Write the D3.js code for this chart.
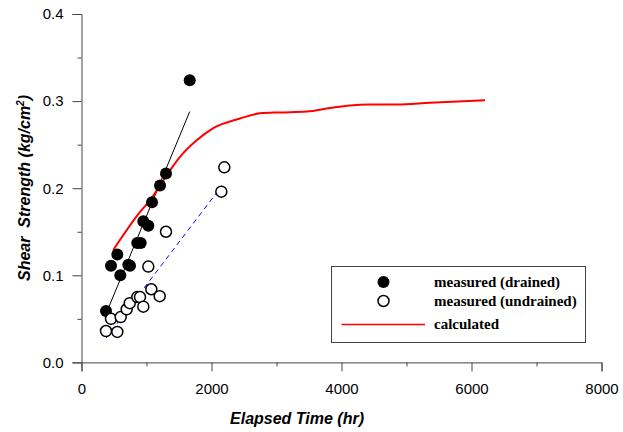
<!DOCTYPE html>
<html>
<head>
<meta charset="utf-8">
<script src="https://cdn.jsdelivr.net/npm/d3@7"></script>
<style>
  body { margin: 0; background: #fff; }
  svg { display: block; }
  .tick text { font-family: "Liberation Sans", Arial, sans-serif; font-size: 15px; fill: #000; }
  .axis-title { font-family: "Liberation Sans", Arial, sans-serif; font-size: 16px; font-weight: bold; font-style: italic; }
  .legend text { font-family: "Liberation Serif", "Times New Roman", serif; font-size: 15px; font-weight: bold; }
</style>
</head>
<body>
<svg width="623" height="432"></svg>
<script>
'use strict';
// measured shear strength, drained samples (hr, kg/cm2)
var drainedTime = [377, 454, 551, 597, 720, 746, 858, 911, 951, 1028, 1085, 1208, 1300, 1665];
var drainedStrength = [0.059, 0.111, 0.124, 0.100, 0.112, 0.111, 0.137, 0.137, 0.162, 0.157, 0.184, 0.203, 0.217, 0.324];

// measured shear strength, undrained samples
var undrainedTime = [377, 454, 551, 603, 695, 742, 858, 900, 951, 1028, 1074, 1203, 1300, 2151, 2197];
var undrainedStrength = [0.036, 0.050, 0.035, 0.052, 0.061, 0.068, 0.075, 0.075, 0.064, 0.110, 0.084, 0.076, 0.150, 0.196, 0.224];

// calculated curve
var calcTime = [489, 926, 1054, 1258, 1515, 1772, 2028, 2438, 2746, 3054, 3465, 3823, 4131, 4438, 4849, 5362, 6208];
var calcStrength = [0.129, 0.175, 0.186, 0.209, 0.236, 0.255, 0.269, 0.280, 0.286, 0.287, 0.288, 0.292, 0.295, 0.296, 0.296, 0.298, 0.301];

// fitted trend lines (end points)
var drainedFitTime = [362, 1665];
var drainedFitStrength = [0.053, 0.288];
var undrainedFitTime = [377, 2157];
var undrainedFitStrength = [0.028, 0.2025];

var xTicks = [0, 2000, 4000, 6000, 8000];
var yTicks = [0, 0.1, 0.2, 0.3, 0.4];
var legendLabels = ['measured (drained)', 'measured (undrained)', 'calculated'];

var svg = d3.select('svg');
var xScale = d3.scaleLinear().domain([0, 8000]).range([81.5, 601.5]);
var yScale = d3.scaleLinear().domain([0, 0.4]).range([362.4, 14]);

// minor ticks
var xMinor = d3.range(1000, 8000, 2000);
var yMinor = d3.range(0.05, 0.4, 0.1);

svg.append('g')
  .attr('transform', 'translate(0,' + yScale(0) + ')')
  .call(d3.axisBottom(xScale).tickValues(xTicks).tickFormat(d3.format('d')).tickSize(9).tickPadding(12));
svg.append('g')
  .attr('transform', 'translate(0,' + yScale(0) + ')')
  .call(d3.axisBottom(xScale).tickValues(xMinor).tickFormat('').tickSize(4))
  .select('.domain').remove();

svg.append('g')
  .attr('transform', 'translate(' + xScale(0) + ',0)')
  .call(d3.axisLeft(yScale).tickValues(yTicks).tickFormat(d3.format('.1f')).tickSize(9).tickPadding(9));
svg.append('g')
  .attr('transform', 'translate(' + xScale(0) + ',0)')
  .call(d3.axisLeft(yScale).tickValues(yMinor).tickFormat('').tickSize(4))
  .select('.domain').remove();

svg.selectAll('.domain').attr('stroke', '#444');
svg.selectAll('.tick line').attr('stroke', '#444');

svg.append('text')
  .attr('class', 'axis-title')
  .attr('x', 297)
  .attr('y', 424)
  .attr('text-anchor', 'middle')
  .text('Elapsed Time (hr)');

svg.append('text')
  .attr('class', 'axis-title')
  .attr('transform', 'translate(30,188) rotate(-90)')
  .attr('text-anchor', 'middle')
  .html('Shear\u00a0 Strength (kg/cm<tspan dy="-6" font-size="10px">2</tspan><tspan dy="6">)</tspan>');

// trend lines
var line = d3.line().x(function(d) { return xScale(d[0]); }).y(function(d) { return yScale(d[1]); });
svg.append('path')
  .datum(d3.zip(drainedFitTime, drainedFitStrength))
  .attr('d', line)
  .attr('fill', 'none')
  .attr('stroke', '#000')
  .attr('stroke-width', 1);
svg.append('path')
  .datum(d3.zip(undrainedFitTime, undrainedFitStrength))
  .attr('d', line)
  .attr('fill', 'none')
  .attr('stroke', '#0000ff')
  .attr('stroke-width', 1)
  .attr('stroke-dasharray', '5,4');

// calculated curve
svg.append('path')
  .datum(d3.zip(calcTime, calcStrength))
  .attr('d', line.curve(d3.curveMonotoneX))
  .attr('fill', 'none')
  .attr('stroke', '#ff0000')
  .attr('stroke-width', 2);

// points
svg.selectAll('circle.drained')
  .data(d3.zip(drainedTime, drainedStrength))
  .enter().append('circle')
  .attr('class', 'drained')
  .attr('cx', function(d) { return xScale(d[0]); })
  .attr('cy', function(d) { return yScale(d[1]); })
  .attr('r', 6)
  .attr('fill', '#000');

svg.selectAll('circle.undrained')
  .data(d3.zip(undrainedTime, undrainedStrength))
  .enter().append('circle')
  .attr('class', 'undrained')
  .attr('cx', function(d) { return xScale(d[0]); })
  .attr('cy', function(d) { return yScale(d[1]); })
  .attr('r', 5.5)
  .attr('fill', '#fff')
  .attr('stroke', '#000')
  .attr('stroke-width', 1.5);

// legend
var legend = svg.append('g').attr('class', 'legend');
legend.append('rect')
  .attr('x', 331.5)
  .attr('y', 266.5)
  .attr('width', 254)
  .attr('height', 76)
  .attr('fill', '#fff')
  .attr('stroke', '#444')
  .attr('stroke-width', 1);
legend.append('circle').attr('cx', 383.5).attr('cy', 282).attr('r', 6).attr('fill', '#000');
legend.append('circle').attr('cx', 383.5).attr('cy', 301).attr('r', 5.5)
  .attr('fill', '#fff').attr('stroke', '#000').attr('stroke-width', 1.5);
legend.append('line').attr('x1', 341.5).attr('x2', 425).attr('y1', 324.5).attr('y2', 324.5)
  .attr('stroke', '#ff0000').attr('stroke-width', 1.5);
legend.selectAll('text')
  .data(legendLabels)
  .enter().append('text')
  .attr('x', 434)
  .attr('y', function(d, i) { return [282, 301, 324][i]; })
  .attr('dy', '0.35em')
  .text(function(d) { return d; });
</script>
</body>
</html>
